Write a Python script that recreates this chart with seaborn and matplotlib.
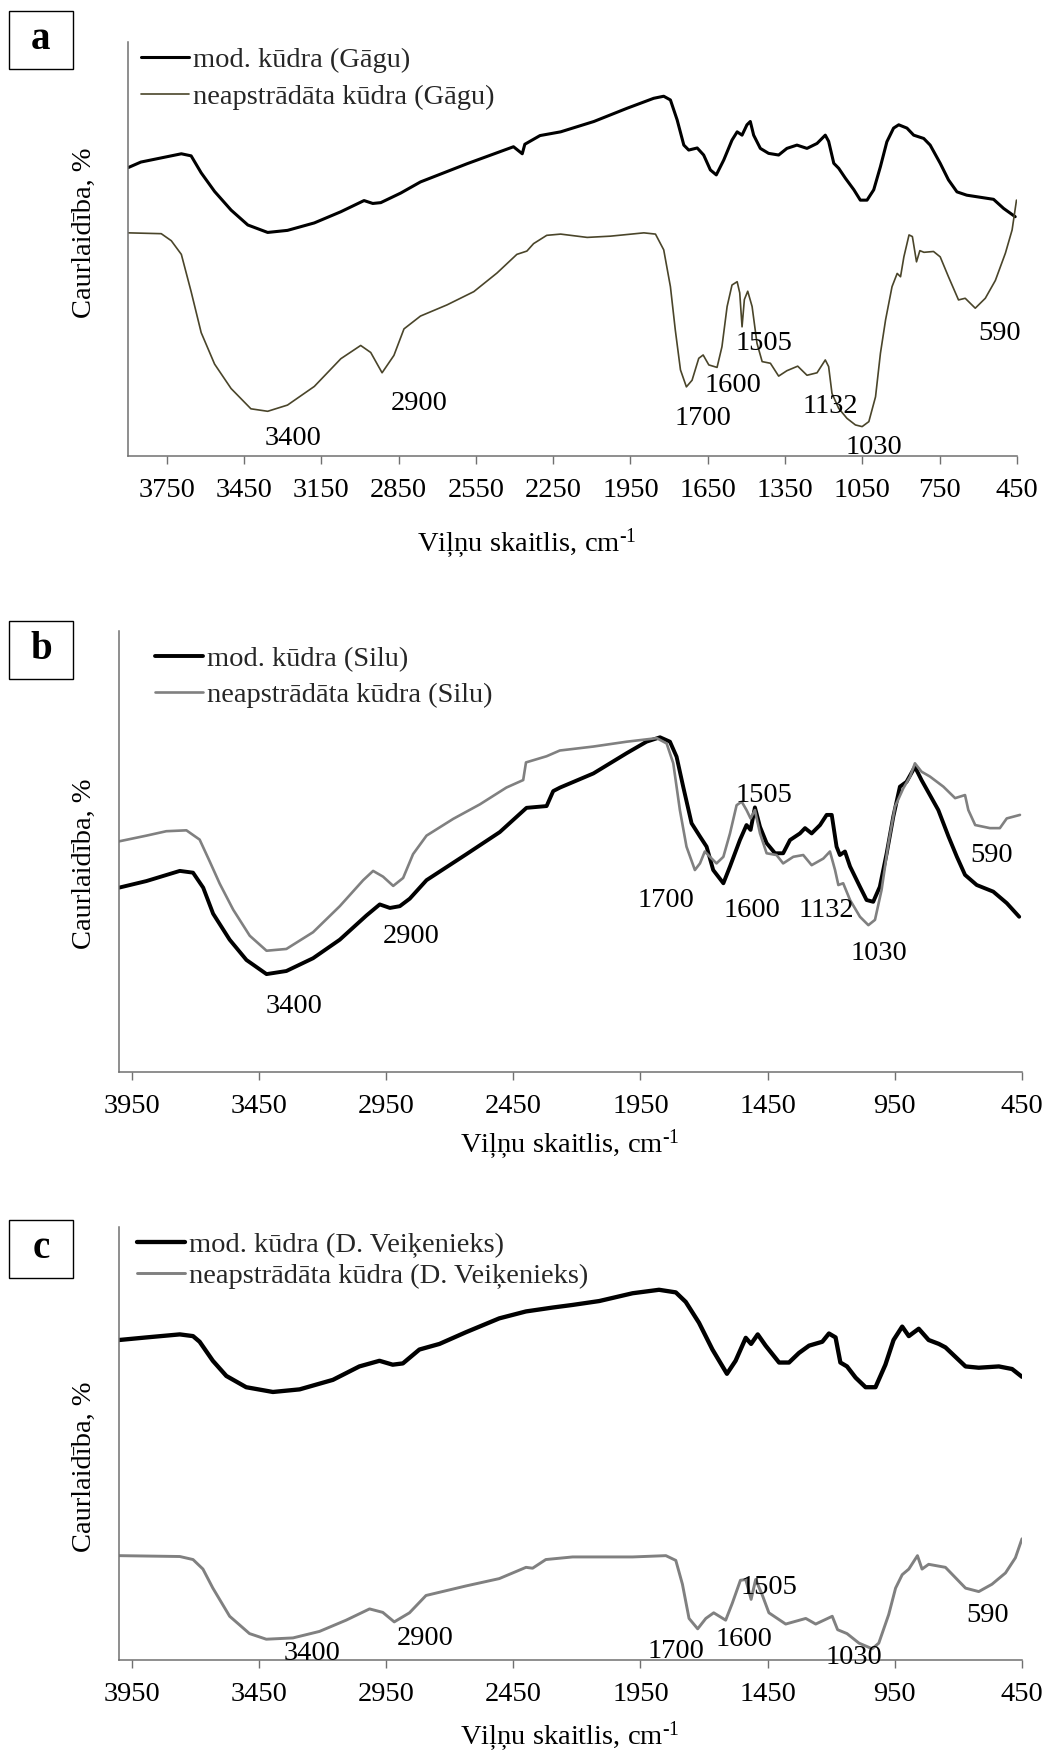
import matplotlib
matplotlib.use("Agg")
import matplotlib.pyplot as plt
import numpy as np
import pandas as pd
import seaborn as sns
from matplotlib.patches import Rectangle

# ---------------- data (wavenumber, cm-1 ; relative transmittance 0-100) -------------
A_MOD_WN = [3898, 3850, 3693, 3655, 3616, 3564, 3500, 3435, 3358, 3281, 3177, 3074, 2984, 2950,
            2919, 2842, 2765, 2584, 2404, 2370, 2360, 2301, 2221, 2092, 1963, 1860, 1821, 1795,
            1769, 1743, 1724, 1691, 1666, 1640, 1617, 1588, 1556, 1536, 1517, 1498, 1485, 1472,
            1446, 1414, 1375, 1343, 1304, 1265, 1226, 1194, 1181, 1161, 1142, 1116, 1083, 1058,
            1032, 1006, 980, 955, 929, 909, 877, 851, 812, 787, 748, 716, 683, 645, 593, 541,
            502, 457]
A_MOD_T = [69.7, 71.0, 73.0, 72.5, 68.4, 63.9, 59.4, 55.8, 54.0, 54.5, 56.3, 59.0, 61.7, 61.0,
           61.2, 63.5, 66.2, 70.6, 74.7, 73.0, 75.3, 77.4, 78.3, 80.8, 84.0, 86.4, 86.9, 86.0,
           81.2, 75.1, 73.9, 74.4, 72.7, 69.1, 67.9, 71.5, 76.3, 78.3, 77.5, 80.0, 80.8, 77.5,
           74.3, 73.1, 72.7, 74.3, 75.1, 74.3, 75.5, 77.5, 76.0, 70.7, 69.5, 67.1, 64.3, 61.8,
           61.8, 64.3, 69.9, 75.9, 79.2, 80.0, 79.2, 77.5, 76.7, 75.1, 70.7, 66.7, 63.8, 63.0,
           62.5, 62.0, 59.8, 57.8]

A_RAW_WN = [3898, 3771, 3732, 3693, 3655, 3616, 3564, 3500, 3423, 3358, 3281, 3177, 3074, 2997,
            2958, 2914, 2868, 2829, 2765, 2662, 2558, 2468, 2391, 2352, 2326, 2275, 2221, 2118,
            2028, 1898, 1853, 1821, 1795, 1776, 1756, 1733, 1711, 1685, 1668, 1646, 1614, 1595,
            1575, 1556, 1536, 1526, 1517, 1508, 1495, 1478, 1459, 1439, 1407, 1375, 1343, 1301,
            1265, 1226, 1194, 1181, 1168, 1142, 1110, 1077, 1051, 1025, 999, 980, 960, 935, 915,
            902, 889, 869, 856, 840, 827, 811, 774, 748, 716, 677, 651, 612, 573, 534, 495, 469,
            452]
A_RAW_T = [53.9, 53.7, 52.0, 48.7, 39.7, 29.8, 22.2, 16.3, 11.4, 10.8, 12.3, 16.8, 23.5, 26.7,
           25.0, 20.1, 24.3, 30.7, 33.8, 36.5, 39.7, 44.2, 48.7, 49.5, 51.3, 53.3, 53.6, 52.8,
           53.1, 53.9, 53.6, 49.8, 40.9, 30.4, 20.8, 16.7, 18.3, 23.6, 24.4, 22.0, 21.4, 26.4,
           36.1, 41.3, 42.1, 39.4, 31.2, 37.8, 39.8, 36.1, 27.2, 22.8, 22.4, 19.3, 20.6, 21.7,
           19.5, 20.1, 23.2, 21.6, 15.1, 11.5, 9.1, 7.5, 7.1, 8.3, 14.3, 24.8, 32.9, 40.9, 44.1,
           43.3, 48.1, 53.4, 53.0, 46.9, 49.6, 49.2, 49.4, 48.1, 43.3, 37.7, 38.1, 35.7, 38.1,
           42.4, 49.0, 54.6, 61.8]

B_MOD_WN = [4000, 3892, 3761, 3709, 3669, 3630, 3565, 3499, 3420, 3342, 3237, 3132, 3027, 2975,
            2935, 2896, 2857, 2791, 2634, 2503, 2398, 2319, 2293, 2266, 2135, 2004, 1926, 1873,
            1834, 1808, 1782, 1749, 1716, 1690, 1664, 1624, 1598, 1559, 1533, 1517, 1500, 1480,
            1454, 1421, 1389, 1362, 1323, 1303, 1277, 1244, 1218, 1198, 1179, 1166, 1146, 1126,
            1087, 1061, 1035, 1009, 982, 956, 930, 904, 871, 845, 812, 779, 739, 706, 674, 628,
            563, 510, 461]
B_MOD_T = [41.8, 43.3, 45.6, 45.2, 41.8, 35.9, 30.0, 25.4, 22.2, 22.9, 25.8, 30.0, 35.5, 38.0,
           37.2, 37.6, 39.3, 43.5, 49.4, 54.4, 59.9, 60.3, 63.7, 64.5, 67.7, 72.3, 74.9, 75.9,
           74.9, 71.5, 64.7, 56.4, 53.4, 51.1, 45.8, 42.8, 46.6, 52.6, 56.0, 54.9, 60.0, 55.6,
           51.9, 49.6, 49.6, 52.6, 54.1, 55.3, 54.1, 56.0, 58.3, 58.3, 51.1, 49.2, 50.0, 46.6,
           42.0, 39.0, 38.6, 42.0, 49.6, 57.9, 64.7, 65.8, 69.2, 66.2, 62.8, 59.4, 53.4, 48.8,
           44.7, 42.4, 40.9, 38.3, 35.2]

B_RAW_WN = [4000, 3892, 3814, 3735, 3683, 3643, 3604, 3551, 3486, 3420, 3342, 3237, 3132, 3040,
            3001, 2962, 2922, 2883, 2844, 2791, 2686, 2581, 2477, 2411, 2400, 2319, 2267, 2135,
            2004, 1886, 1847, 1821, 1795, 1769, 1736, 1716, 1697, 1677, 1651, 1624, 1598, 1572,
            1552, 1533, 1517, 1500, 1480, 1454, 1415, 1389, 1349, 1310, 1277, 1231, 1205, 1185,
            1172, 1153, 1126, 1087, 1054, 1028, 1002, 975, 949, 917, 890, 871, 845, 812, 759,
            713, 674, 661, 634, 576, 537, 510, 484, 458]
B_RAW_T = [52.3, 53.6, 54.6, 54.8, 52.7, 47.7, 42.7, 36.8, 30.9, 27.5, 27.9, 31.7, 37.6, 43.5,
           45.6, 44.3, 42.2, 44.0, 49.4, 53.6, 57.4, 60.7, 64.5, 66.2, 70.2, 71.6, 72.9, 73.8,
           74.9, 75.7, 74.5, 70.0, 59.4, 51.1, 45.8, 47.3, 50.0, 48.8, 47.3, 48.8, 54.1, 60.5,
           61.3, 59.4, 57.5, 59.4, 54.1, 49.6, 49.2, 47.3, 48.8, 49.2, 46.9, 48.4, 50.0, 45.8,
           42.4, 42.8, 39.0, 35.2, 33.3, 34.5, 41.3, 51.9, 60.2, 64.3, 67.0, 70.0, 68.1, 67.0,
           64.7, 62.1, 62.8, 59.4, 56.0, 55.3, 55.3, 57.5, 57.9, 58.3]

C_MOD_WN = [4000, 3892, 3761, 3709, 3683, 3631, 3578, 3500, 3395, 3290, 3159, 3055, 2976, 2924,
            2884, 2819, 2740, 2636, 2505, 2400, 2295, 2217, 2112, 1981, 1877, 1811, 1772, 1720,
            1667, 1610, 1576, 1536, 1515, 1489, 1458, 1405, 1366, 1327, 1287, 1235, 1209, 1183,
            1164, 1138, 1104, 1065, 1026, 987, 955, 921, 895, 856, 817, 777, 751, 672, 620, 541,
            489, 450]
C_MOD_T = [73.9, 74.5, 75.2, 74.8, 73.5, 69.1, 65.6, 63.0, 61.9, 62.5, 64.7, 67.8, 69.1, 68.2,
           68.5, 71.7, 73.0, 75.7, 78.9, 80.5, 81.4, 82.0, 82.9, 84.7, 85.5, 84.9, 82.7, 77.9,
           71.7, 66.1, 69.1, 74.4, 73.0, 75.2, 72.6, 68.7, 68.7, 70.9, 72.6, 73.5, 75.4, 74.5,
           68.7, 67.8, 65.2, 63.0, 63.0, 68.2, 73.9, 77.0, 74.8, 76.5, 73.9, 73.0, 72.2, 67.8,
           67.5, 67.8, 67.2, 65.4]

C_RAW_WN = [4000, 3761, 3709, 3670, 3631, 3565, 3487, 3421, 3316, 3212, 3107, 3015, 2963, 2918,
            2858, 2793, 2636, 2505, 2400, 2374, 2322, 2217, 1981, 1850, 1811, 1785, 1759, 1725,
            1693, 1662, 1615, 1589, 1557, 1536, 1515, 1497, 1471, 1445, 1379, 1300, 1261, 1196,
            1175, 1138, 1091, 1039, 1013, 974, 947, 921, 895, 861, 843, 817, 751, 672, 620, 568,
            515, 476, 450]
C_RAW_T = [24.1, 23.9, 23.2, 21.0, 16.6, 10.1, 6.1, 4.8, 5.1, 6.6, 9.2, 11.8, 11.0, 8.8, 10.9,
           14.9, 17.1, 18.8, 21.4, 21.2, 23.2, 23.8, 23.8, 24.1, 23.0, 17.5, 9.6, 7.2, 9.6, 10.9,
           9.2, 13.1, 18.4, 18.6, 14.0, 18.6, 15.0, 10.9, 8.3, 9.6, 8.3, 10.1, 7.0, 6.1, 3.9, 2.6,
           3.9, 10.5, 16.6, 19.7, 21.0, 24.1, 21.0, 22.1, 21.4, 16.6, 15.8, 17.5, 20.1, 23.6, 28.0]

# series labels
A_LABELS = ["mod. kūdra (Gāgu)", "neapstrādāta kūdra (Gāgu)"]
B_LABELS = ["mod. kūdra (Silu)", "neapstrādāta kūdra (Silu)"]
C_LABELS = ["mod. kūdra (D. Veiķenieks)", "neapstrādāta kūdra (D. Veiķenieks)"]

# tick labels
A_TICKS = [3750, 3450, 3150, 2850, 2550, 2250, 1950, 1650, 1350, 1050, 750, 450]
BC_TICKS = [3950, 3450, 2950, 2450, 1950, 1450, 950, 450]

# peak annotations: text, wavenumber, level
A_PEAK_TXT = ["3400", "2900", "1700", "1600", "1505", "1132", "1030", "590"]
A_PEAK_X = [3258, 2771, 1667, 1554, 1430, 1174, 1006, 517]
A_PEAK_Y = [5.0, 13.4, 9.7, 17.8, 28.0, 12.7, 2.8, 30.4]
B_PEAK_TXT = ["3400", "2900", "1700", "1600", "1505", "1132", "1030", "590"]
B_PEAK_X = [3310, 2851, 1849, 1512, 1463, 1220, 1012, 569]
B_PEAK_Y = [15.6, 31.3, 39.6, 37.3, 63.4, 37.3, 27.5, 49.8]
C_PEAK_TXT = ["3400", "2900", "1700", "1600", "1505", "1030", "590"]
C_PEAK_X = [3241, 2798, 1811, 1544, 1445, 1109, 586]
C_PEAK_Y = [2.2, 5.7, 2.6, 5.5, 17.5, 1.3, 10.9]

# ---------------- style ----------------
sns.set_theme(style="white")
plt.rcParams['font.family'] = ['Liberation Serif', 'DejaVu Serif']
plt.rcParams['mathtext.fontset'] = 'custom'
plt.rcParams['mathtext.rm'] = 'Liberation Serif'
plt.rcParams['mathtext.it'] = 'Liberation Serif:italic'
plt.rcParams['mathtext.bf'] = 'Liberation Serif:bold'

W, H = 1043, 1753
fig = plt.figure(figsize=(W / 100, H / 100), dpi=100)


def fx(px):
    return px / W


def fy(py):
    return 1 - py / H


FS = 20.5
SPINE = '#707070'

panels = [
    dict(rect=(128, 42, 1017, 456), xmax=3900, ticks=A_TICKS,
         series=[(A_MOD_WN, A_MOD_T, A_LABELS[0], 'black', 2.2),
                 (A_RAW_WN, A_RAW_T, A_LABELS[1], '#4A452A', 1.2)],
         peaks=(A_PEAK_TXT, A_PEAK_X, A_PEAK_Y),
         leg=(141, 78.3, 0.40), ylab=233, xlab=(527, 552), box=(8.7, 10.7, 73, 68.7), letter='a'),
    dict(rect=(119, 631, 1022, 1072), xmax=4000, ticks=BC_TICKS,
         series=[(B_MOD_WN, B_MOD_T, B_LABELS[0], 'black', 2.8),
                 (B_RAW_WN, B_RAW_T, B_LABELS[1], '#808080', 1.9)],
         peaks=(B_PEAK_TXT, B_PEAK_X, B_PEAK_Y),
         leg=(155, 677, 0.35), ylab=864, xlab=(570, 1152.5), box=(8.7, 620.7, 73, 679), letter='b'),
    dict(rect=(119, 1227, 1022, 1660), xmax=4000, ticks=BC_TICKS,
         series=[(C_MOD_WN, C_MOD_T, C_LABELS[0], 'black', 3.1),
                 (C_RAW_WN, C_RAW_T, C_LABELS[1], '#808080', 2.1)],
         peaks=(C_PEAK_TXT, C_PEAK_X, C_PEAK_Y),
         leg=(137, 1260.5, 0.16), ylab=1467, xlab=(570, 1745), box=(8.7, 1220, 73, 1278), letter='c'),
]

for p in panels:
    l, t, r, b = p['rect']
    ax = fig.add_axes([fx(l), fy(b), (r - l) / W, (b - t) / H])
    for wn, tr, lab, col, lw in p['series']:
        df = pd.DataFrame({'wn': wn, 'T': tr})
        sns.lineplot(data=df, x='wn', y='T', sort=False, estimator=None, color=col,
                     linewidth=lw, label=lab, ax=ax)
    ax.set_xlim(p['xmax'], 450)
    ax.set_ylim(0, 100)
    ax.set_xticks(p['ticks'], labels=[str(v) for v in p['ticks']])
    ax.set_yticks([])
    ax.set_xlabel('')
    ax.set_ylabel('')
    for s in ['top', 'right']:
        ax.spines[s].set_visible(False)
    for s in ['left', 'bottom']:
        ax.spines[s].set_color(SPINE)
        ax.spines[s].set_linewidth(1.1)
    ax.tick_params(axis='x', bottom=True, direction='out', length=5.8, width=1.0,
                   color=SPINE, labelsize=FS, labelcolor='black', pad=10)
    ax.patch.set_alpha(0)

    txt, px, py = p['peaks']
    for s, xv, yv in zip(txt, px, py):
        ax.text(xv, yv, s, ha='center', va='center_baseline', fontsize=FS, color='black')

    lx, ly, lsp = p['leg']
    ax.legend(loc='center left', bbox_to_anchor=(fx(lx), fy(ly)), bbox_transform=fig.transFigure,
              frameon=False, borderpad=0, borderaxespad=0, handlelength=1.68,
              handletextpad=0.15, labelspacing=lsp, fontsize=FS)

    fig.text(fx(84), fy(p['ylab']), 'Caurlaidība, %', rotation=90, ha='center', va='center',
             fontsize=FS, color='black')
    xc, xb = p['xlab']
    fig.text(fx(xc), fy(xb), 'Viļņu skaitlis, cm$^{\\text{-1}}$', ha='center', va='baseline',
             fontsize=FS, color='black')

    bx0, by0, bx1, by1 = p['box']
    fig.patches.append(Rectangle((fx(bx0), fy(by1)), (bx1 - bx0) / W, (by1 - by0) / H,
                                 transform=fig.transFigure, fill=False, ec='black', lw=1.0))
    fig.text(fx((bx0 + bx1) / 2), fy((by0 + by1) / 2), p['letter'], ha='center',
             va='center', fontsize=28, fontweight='bold', color='black')

fig.savefig('out.png', dpi=100)
